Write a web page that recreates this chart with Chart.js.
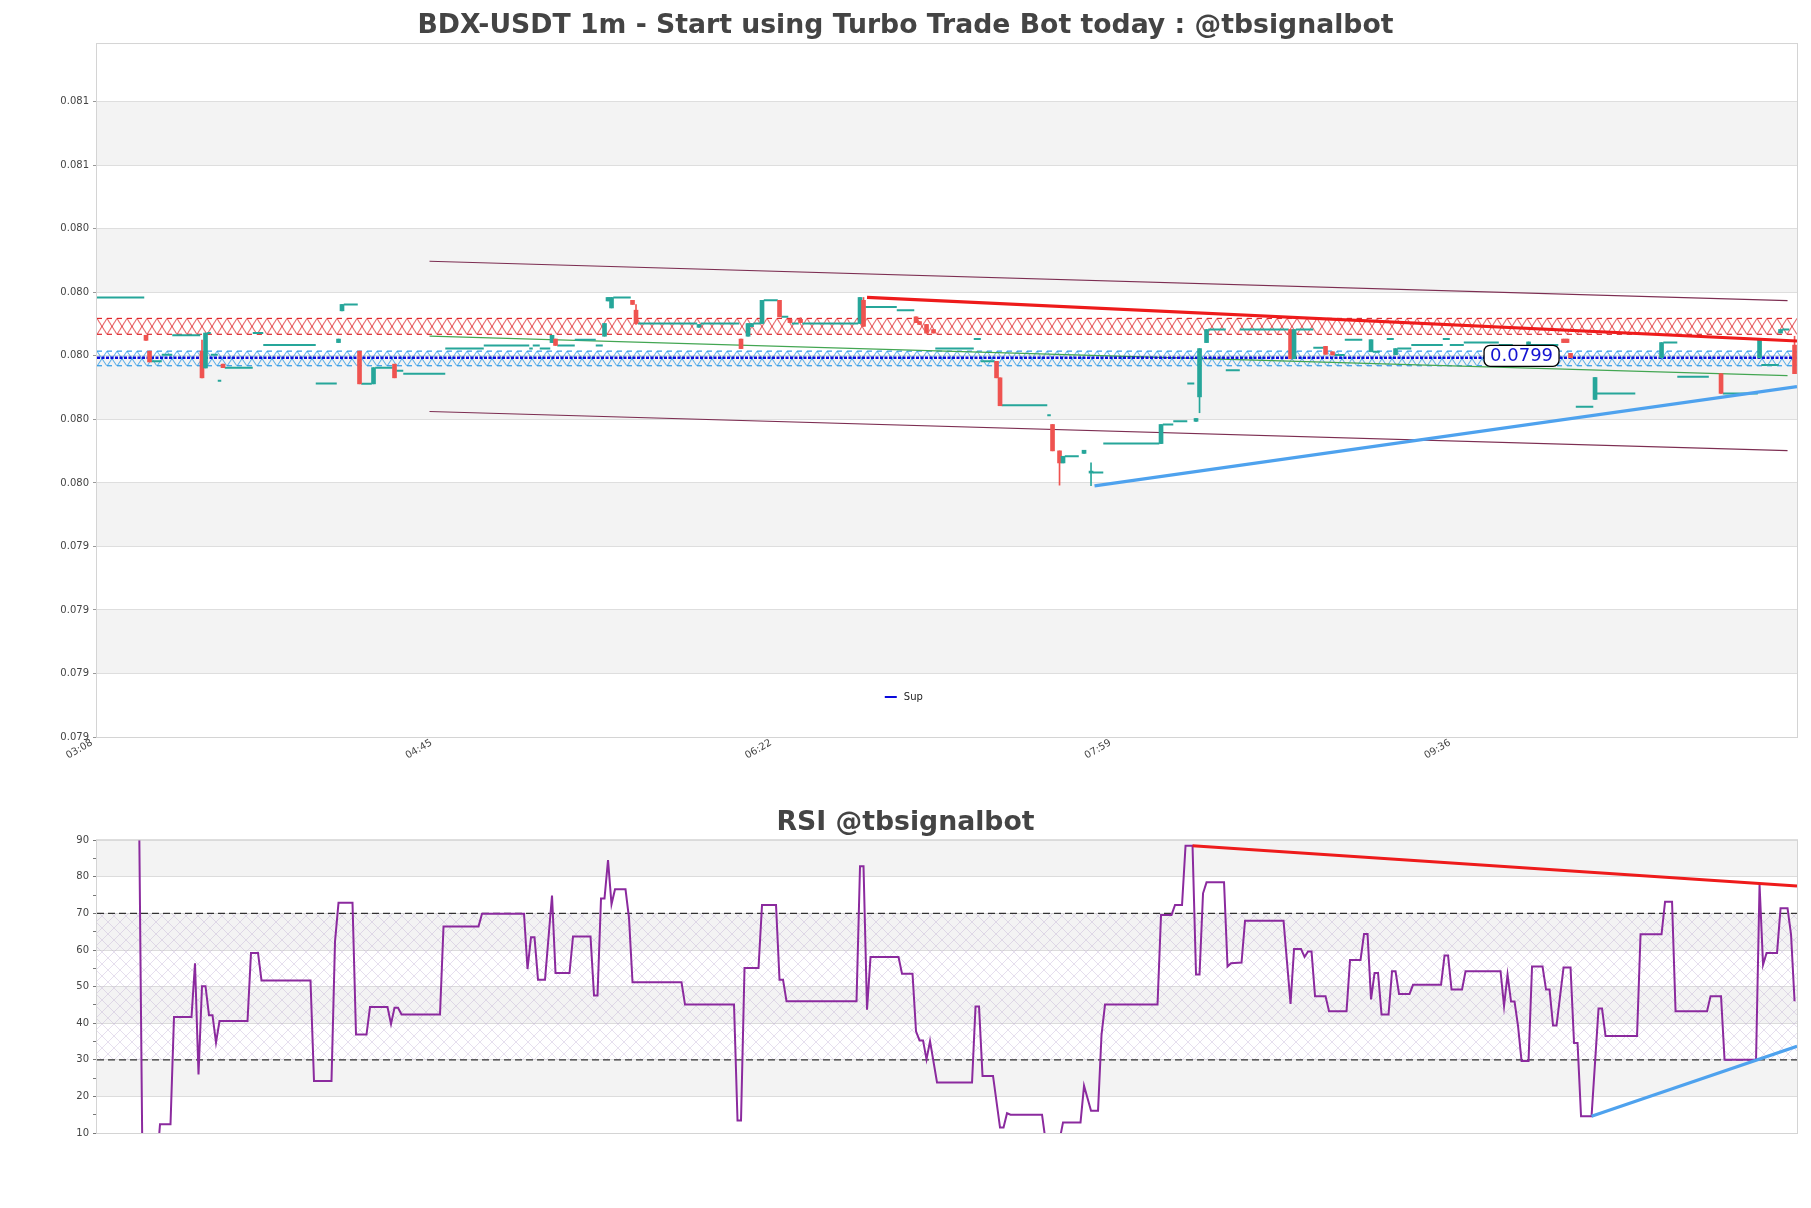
<!DOCTYPE html>
<html><head><meta charset="utf-8">
<script src="https://cdn.jsdelivr.net/npm/chart.js@4.4.1/dist/chart.umd.min.js"></script>
<style>
html,body{margin:0;padding:0;background:#fff;width:1811px;height:1208px;overflow:hidden}
#main{position:absolute;left:0;top:0}
#rsi{position:absolute;left:0;top:790px}
</style></head><body>
<canvas id="main" width="1811" height="790"></canvas>
<canvas id="rsi" width="1811" height="418"></canvas>
<script>
// ---------------- data ----------------
const xTickMinutes = [0, 97, 194, 291, 388];
const xTickLabels = ['03:08', '04:45', '06:22', '07:59', '09:36'];
const xMax = 485.7;

const priceTicks = [0.0788, 0.0790, 0.0792, 0.0794, 0.0796, 0.0798, 0.0800, 0.0802, 0.0804, 0.0806, 0.0808];
const yAxisMax = 0.080982;

const candleMinute = [14,15,30,31,36,69,70,75,79,85,130,131,145,146,147,153,154,172,184,186,187,190,195,198,201,218,219,234,235,237,239,257,258,273,275,276,282,284,304,314,315,317,341,342,351,353,364,371,409,419,420,421,428,447,464,475,481,485];
const candleOpen  = [0.080065,0.080015,0.080015,0.079962,0.079974,0.080042,0.080142,0.080015,0.079912,0.079974,0.080042,0.080053,0.080062,0.080173,0.080151,0.080175,0.080144,0.080090,0.080053,0.080062,0.080092,0.080102,0.080175,0.080115,0.080115,0.080102,0.080175,0.080123,0.080108,0.080099,0.080083,0.079983,0.079931,0.079784,0.079701,0.079663,0.079693,0.079631,0.079724,0.079794,0.079871,0.080042,0.080083,0.079991,0.080030,0.080013,0.080013,0.080004,0.080034,0.080053,0.080053,0.080008,0.079863,0.079994,0.079944,0.079994,0.080072,0.080034];
const candleHigh  = [0.080065,0.080015,0.080050,0.080072,0.079974,0.080053,0.080162,0.080015,0.079963,0.079974,0.080065,0.080053,0.080102,0.080184,0.080184,0.080175,0.080162,0.080099,0.080053,0.080102,0.080102,0.080175,0.080175,0.080115,0.080120,0.080184,0.080184,0.080123,0.080108,0.080099,0.080083,0.079983,0.079931,0.079784,0.079701,0.079684,0.079703,0.079663,0.079784,0.079803,0.080023,0.080083,0.080083,0.080083,0.080030,0.080013,0.080051,0.080023,0.080044,0.080053,0.080053,0.080008,0.079932,0.080042,0.079944,0.080053,0.080083,0.080062];
const candleLow   = [0.080049,0.079981,0.079931,0.079962,0.079963,0.080042,0.080142,0.079912,0.079912,0.079931,0.080042,0.080033,0.080062,0.080173,0.080151,0.080162,0.080099,0.080090,0.080023,0.080062,0.080092,0.080102,0.080123,0.080105,0.080105,0.080102,0.080093,0.080105,0.080099,0.080072,0.080072,0.079931,0.079843,0.079701,0.079593,0.079663,0.079693,0.079591,0.079724,0.079794,0.079821,0.080042,0.079991,0.079991,0.080005,0.080003,0.080013,0.080004,0.080034,0.080042,0.080042,0.079994,0.079863,0.079994,0.079882,0.079994,0.080072,0.079944];
const candleClose = [0.080049,0.079981,0.079931,0.080072,0.079963,0.080053,0.080162,0.079912,0.079963,0.079931,0.080065,0.080033,0.080102,0.080184,0.080184,0.080162,0.080102,0.080099,0.080023,0.080102,0.080102,0.080175,0.080123,0.080105,0.080105,0.080184,0.080093,0.080105,0.080099,0.080072,0.080072,0.079931,0.079843,0.079701,0.079663,0.079684,0.079703,0.079635,0.079784,0.079803,0.080023,0.080083,0.079991,0.080083,0.080005,0.080003,0.080051,0.080023,0.080044,0.080042,0.080042,0.079994,0.079932,0.080042,0.079882,0.080053,0.080083,0.079944];

// runs of minutes without price change (O=H=L=C)
const flatStart = [0,16,19,22,32,33,35,37,45,48,63,71,76,80,86,88,100,111,124,125,127,132,137,143,148,155,173,188,191,196,199,202,220,229,240,251,253,259,272,277,285,288,305,308,312,318,323,327,343,348,354,357,365,369,372,376,385,387,391,401,410,423,429,448,452,465,476,482];
const flatEnd   = [13,18,21,29,32,34,35,44,47,62,68,74,78,84,87,99,110,123,124,126,129,136,142,144,152,171,183,189,194,197,200,217,228,233,250,252,256,271,272,280,287,303,307,311,313,322,326,340,347,350,356,361,366,370,375,384,386,390,400,404,417,427,439,451,460,474,480,483];
const flatPrice = [0.080184,0.079983,0.080004,0.080065,0.080072,0.080004,0.079922,0.079963,0.080072,0.080034,0.079913,0.080162,0.079912,0.079963,0.079953,0.079944,0.080023,0.080033,0.080023,0.080033,0.080023,0.080033,0.080051,0.080033,0.080184,0.080102,0.080102,0.080102,0.080175,0.080123,0.080102,0.080102,0.080154,0.080144,0.080023,0.080053,0.079983,0.079845,0.079813,0.079684,0.079633,0.079724,0.079784,0.079794,0.079913,0.080083,0.079955,0.080083,0.080083,0.080026,0.080003,0.080051,0.080013,0.080053,0.080023,0.080034,0.080053,0.080034,0.080042,0.080034,0.080034,0.079840,0.079882,0.080042,0.079934,0.079882,0.079971,0.080083];

const resZone = [0.080068, 0.080118];
const supZone = [0.079969, 0.080015];
const supLevel = [0.079994];
const priceLabelText = ['0.0799'];
const priceLabelMinute = [407];

const resTrendMinute = [220, 485.7];
const resTrendPrice  = [0.080184, 0.080047];
const supTrendMinute = [285, 485.7];
const supTrendPrice  = [0.079591, 0.079903];
const channelMinute = [95, 483];
const channelUpper  = [0.080298, 0.080174];
const channelMid    = [0.080062, 0.079938];
const channelLower  = [0.079825, 0.079702];

const rsiMinute = [12,13,17,18,21,22,27,28,29,30,31,32,33,34,35,43,44,46,47,61,62,67,68,69,73,74,77,78,83,84,85,86,87,98,99,109,110,122,123,124,125,126,128,130,131,135,136,141,142,143,144,145,146,147,148,151,152,153,167,168,182,183,184,185,189,190,194,195,196,197,217,218,219,220,221,229,230,233,234,235,236,237,238,240,250,251,252,253,256,258,259,260,261,270,271,275,276,281,282,284,286,287,288,303,304,307,308,310,311,313,314,315,316,317,322,323,324,327,328,339,341,342,344,345,346,347,348,351,352,357,358,361,362,363,364,365,366,367,369,370,371,372,375,376,384,385,386,387,390,391,401,402,403,404,405,406,407,409,410,413,414,415,416,417,419,421,422,423,424,427,429,430,431,440,441,447,448,450,451,460,461,464,465,474,475,476,477,480,481,483,484,485];
const rsiValue  = [100,0,0,12.4,12.4,41.7,41.7,56.4,26.0,50.1,50.1,42.2,42.2,34.7,40.6,40.6,59.2,59.2,51.7,51.7,24.2,24.2,62.3,72.9,72.9,36.9,36.9,44.4,44.4,39.8,44.2,44.2,42.4,42.4,66.4,66.4,69.9,69.9,54.8,63.5,63.5,51.9,51.9,74.9,53.7,53.7,63.7,63.7,47.6,47.6,74.1,74.1,84.6,72.5,76.6,76.6,68.7,51.2,51.2,45.1,45.1,13.4,13.4,55.1,55.1,72.3,72.3,51.9,51.9,46.0,46.0,82.9,82.9,43.7,58.1,58.1,53.5,53.5,37.8,35.3,35.3,30.1,35.1,23.8,23.8,44.6,44.6,25.6,25.6,11.5,11.5,15.4,15.0,15.0,8.0,8.0,12.9,12.9,22.9,16.1,16.1,36.9,45.1,45.1,69.6,69.6,72.3,72.3,88.5,88.5,53.3,53.3,75.5,78.5,78.5,55.5,56.4,56.6,68.0,68.0,45.3,60.3,60.3,58.1,59.6,59.6,47.4,47.4,43.3,43.3,57.3,57.3,64.4,64.4,46.5,53.7,53.7,42.4,42.4,54.2,54.2,48.0,48.0,50.5,50.5,58.5,58.5,49.2,49.2,54.2,54.2,44.7,53.3,45.9,45.9,39.2,29.7,29.7,55.5,55.5,49.2,49.2,39.4,39.4,55.2,55.2,34.6,34.6,14.6,14.6,44.0,44.0,36.5,36.5,64.3,64.3,73.2,73.2,43.3,43.3,47.4,47.4,30.0,30.0,77.9,56.0,59.2,59.2,71.4,71.4,64.2,46.0];
const rsiLevels = [30, 70];
const rsiBandEdges = [10, 20, 30, 40, 50, 60, 70, 80, 90];
const rsiResMinute = [313, 485.7];
const rsiResValue  = [88.5, 77.5];
const rsiSupMinute = [427, 485.7];
const rsiSupValue  = [14.6, 33.7];

// ---------------- styles / helpers ----------------
const UP = '#26a69a', DOWN = '#ef5350';
const TICK_FONT = {family: 'DejaVu Sans', size: 10};
const TITLE_FONT = {family: 'DejaVu Sans', size: 26.7, weight: 'bold', lineHeight: 1.2};

function pts(xs, ys) { return xs.map((x, i) => ({x: x, y: ys[i]})); }
function lineDs(label, data, color, width, order, extra) {
  return Object.assign({type: 'line', label, data, borderColor: color, borderWidth: width,
    pointRadius: 0, pointHoverRadius: 0, fill: false, tension: 0, order, spanGaps: false}, extra || {});
}
function hatchTile(color, w, h, lw) {
  const c = document.createElement('canvas'); c.width = w; c.height = h;
  const g = c.getContext('2d'); g.strokeStyle = color; g.lineWidth = lw;
  g.beginPath(); g.moveTo(0, 0); g.lineTo(w, h); g.moveTo(w, 0); g.lineTo(0, h); g.stroke();
  return c;
}

const bandsPlugin = {
  id: 'bands',
  beforeDraw(chart, args, opts) {
    const {ctx, chartArea: a} = chart; const y = chart.scales.y;
    const edges = opts.edges || [];
    ctx.save(); ctx.fillStyle = '#f3f3f3';
    for (let i = 1; i + 1 < edges.length; i += 2) {
      const y0 = y.getPixelForValue(edges[i + 1]), y1 = y.getPixelForValue(edges[i]);
      ctx.fillRect(a.left, y0, a.right - a.left, y1 - y0);
    }
    ctx.restore();
  },
  afterDraw(chart) {
    const {ctx, chartArea: a} = chart;
    ctx.save(); ctx.strokeStyle = '#d4d4d4'; ctx.lineWidth = 1;
    ctx.strokeRect(a.left - 0.5, a.top - 0.5, a.right - a.left + 1, a.bottom - a.top + 1);
    ctx.restore();
  }
};

const zonePlugin = {
  id: 'zones',
  beforeDatasetsDraw(chart) {
    const {ctx, chartArea: a} = chart; const y = chart.scales.y;
    [[resZone, '#e0282c', 10], [supZone, '#2b98e6', 10]].forEach(([z, color, w]) => {
      const yTop = y.getPixelForValue(z[1]), yBot = y.getPixelForValue(z[0]);
      const h = Math.max(2, Math.round(yBot - yTop));
      const pat = ctx.createPattern(hatchTile(color, w, h, 0.9), 'repeat');
      pat.setTransform(new DOMMatrix().translateSelf(a.left, yTop));
      ctx.save(); ctx.fillStyle = pat;
      ctx.fillRect(a.left, yTop, a.right - a.left, yBot - yTop);
      ctx.restore();
    });
  }
};

const labelPlugin = {
  id: 'priceLabel',
  afterDatasetsDraw(chart) {
    const {ctx} = chart;
    const x = chart.scales.x.getPixelForValue(priceLabelMinute[0]);
    const y = chart.scales.y.getPixelForValue(supLevel[0]) - 2;
    ctx.save();
    ctx.font = '18px "DejaVu Sans"';
    const w = ctx.measureText(priceLabelText[0]).width + 12, h = 21;
    ctx.beginPath(); ctx.roundRect(x - w / 2, y - h / 2, w, h, 6);
    ctx.fillStyle = '#fff'; ctx.fill(); ctx.lineWidth = 1.3; ctx.strokeStyle = '#000'; ctx.stroke();
    ctx.fillStyle = '#1414d2'; ctx.textAlign = 'center'; ctx.textBaseline = 'middle';
    ctx.fillText(priceLabelText[0], x, y + 1);
    // legend
    const a = chart.chartArea;
    const lx = a.left + (a.right - a.left) * 0.4634, ly = a.bottom - 40;
    ctx.strokeStyle = '#0a0adc'; ctx.lineWidth = 2; ctx.setLineDash([]);
    ctx.beginPath(); ctx.moveTo(lx, ly); ctx.lineTo(lx + 12, ly); ctx.stroke();
    ctx.font = '10px "DejaVu Sans"'; ctx.fillStyle = '#222'; ctx.textAlign = 'left';
    ctx.fillText('Sup', lx + 19, ly);
    ctx.restore();
  }
};

// ---------------- main chart ----------------
const flatPoints = [];
flatStart.forEach((s, i) => {
  flatPoints.push({x: s - 0.5, y: flatPrice[i]}, {x: flatEnd[i] + 0.5, y: flatPrice[i]}, {x: flatEnd[i] + 0.5, y: null});
});
const candleColors = candleClose.map((c, i) => c >= candleOpen[i] ? UP : DOWN);
const fullSpan = [0, xMax];

new Chart(document.getElementById('main'), {
  type: 'bar',
  data: {
    datasets: [
      lineDs('Res trend', pts(resTrendMinute, resTrendPrice), '#ee1b1b', 3.2, 0),
      lineDs('Sup trend', pts(supTrendMinute, supTrendPrice), '#4ea2ee', 3.2, 0),
      {type: 'bar', label: 'Body', data: candleMinute.map((m, i) => ({x: m, y: [candleOpen[i], candleClose[i]]})),
        backgroundColor: candleColors, borderWidth: 0, barThickness: 4, grouped: false, minBarLength: 2, order: 1},
      {type: 'bar', label: 'Wick', data: candleMinute.map((m, i) => ({x: m, y: [candleLow[i], candleHigh[i]]})),
        backgroundColor: candleColors, borderWidth: 0, barThickness: 1, grouped: false, order: 2},
      lineDs('Flat', flatPoints, UP, 2, 3),
      lineDs('Sup', pts(fullSpan, [supLevel[0], supLevel[0]]), '#0a0adc', 2.6, 4, {borderDash: [3, 1.5]}),
      lineDs('Channel upper', pts(channelMinute, channelUpper), '#7d2e52', 1.2, 5),
      lineDs('Channel mid', pts(channelMinute, channelMid), '#43a652', 1.2, 5),
      lineDs('Channel lower', pts(channelMinute, channelLower), '#7d2e52', 1.2, 5),
      lineDs('Res zone low', pts(fullSpan, [resZone[0], resZone[0]]), '#e0282c', 1.2, 6, {borderDash: [5, 5]}),
      lineDs('Res zone high', pts(fullSpan, [resZone[1], resZone[1]]), '#e0282c', 1.2, 6, {borderDash: [5, 5]}),
      lineDs('Sup zone low', pts(fullSpan, [supZone[0], supZone[0]]), '#2b98e6', 1.2, 6, {borderDash: [5, 5]}),
      lineDs('Sup zone high', pts(fullSpan, [supZone[1], supZone[1]]), '#2b98e6', 1.2, 6, {borderDash: [5, 5]})
    ]
  },
  options: {
    responsive: false, animation: false, devicePixelRatio: 1,
    layout: {padding: {left: 14, right: 14, top: 0, bottom: 13}},
    plugins: {
      legend: {display: false}, tooltip: {enabled: false},
      title: {display: true, text: 'BDX-USDT 1m - Start using Turbo Trade Bot today : @tbsignalbot',
        color: '#444', font: TITLE_FONT, padding: {top: 10, bottom: 2}},
      bands: {edges: priceTicks}
    },
    scales: {
      x: {type: 'linear', min: 0, max: xMax, offset: false,
        grid: {display: false, drawTicks: false, offset: false}, border: {display: false},
        afterBuildTicks: s => { s.ticks = xTickMinutes.map(v => ({value: v})); },
        afterFit: s => { s.height = 40; },
        ticks: {autoSkip: false, minRotation: 30, maxRotation: 30, padding: 0, labelOffset: -5, font: TICK_FONT, color: '#444',
          callback: v => { const i = xTickMinutes.indexOf(v); return i >= 0 ? xTickLabels[i] : ''; }}},
      y: {type: 'linear', min: priceTicks[0], max: yAxisMax,
        grid: {color: '#dedede', lineWidth: 1, tickLength: 4, tickColor: '#999'}, border: {display: false},
        afterBuildTicks: s => { s.ticks = priceTicks.map(v => ({value: v})); },
        afterFit: s => { s.width = 83; },
        ticks: {padding: 4, font: TICK_FONT, color: '#444', callback: v => Number(v).toFixed(3)}}
    }
  },
  plugins: [bandsPlugin, zonePlugin, labelPlugin]
});

// ---------------- RSI chart ----------------
const rsiPattern = document.createElement('canvas').getContext('2d')
  .createPattern(hatchTile('rgba(190,170,210,0.55)', 12, 12, 0.7), 'repeat');

new Chart(document.getElementById('rsi'), {
  type: 'line',
  data: {
    datasets: [
      lineDs('RSI', pts(rsiMinute, rsiValue), '#8b2a9e', 2, 1),
      lineDs('RSI res', pts(rsiResMinute, rsiResValue), '#ee1b1b', 3.2, 0),
      lineDs('RSI sup', pts(rsiSupMinute, rsiSupValue), '#4ea2ee', 3.2, 0),
      lineDs('RSI 30', pts(fullSpan, [rsiLevels[0], rsiLevels[0]]), '#333', 1.2, 5, {borderDash: [7, 4]}),
      lineDs('RSI 70', pts(fullSpan, [rsiLevels[1], rsiLevels[1]]), '#333', 1.2, 5,
        {borderDash: [7, 4], fill: '-1', backgroundColor: rsiPattern})
    ]
  },
  options: {
    responsive: false, animation: false, devicePixelRatio: 1,
    layout: {padding: {left: 14, right: 14, top: 0, bottom: 75}},
    plugins: {
      legend: {display: false}, tooltip: {enabled: false},
      title: {display: true, text: 'RSI @tbsignalbot', color: '#444', font: TITLE_FONT, padding: {top: 17, bottom: 1.2}},
      bands: {edges: rsiBandEdges}
    },
    scales: {
      x: {type: 'linear', min: 0, max: xMax, display: false},
      y: {type: 'linear', min: 10, max: 90,
        grid: {color: c => (c.tick && c.tick.value % 10 === 0) ? '#dcdcdc' : 'rgba(0,0,0,0)', tickColor: '#777', tickLength: 4},
        border: {display: false},
        afterFit: s => { s.width = 83; },
        ticks: {stepSize: 5, autoSkip: false, padding: 4, font: TICK_FONT, color: '#444',
          callback: v => (v % 10 === 0 ? String(v) : '')}}
    }
  },
  plugins: [bandsPlugin]
});
</script>
</body></html>
